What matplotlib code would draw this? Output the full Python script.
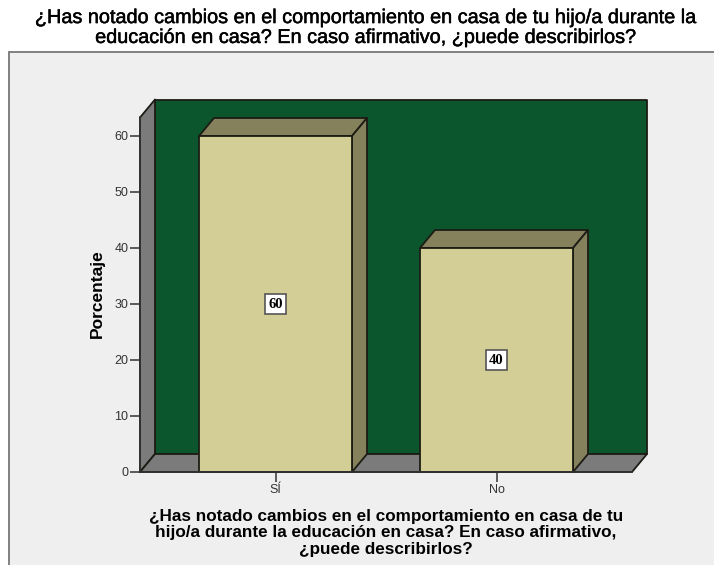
#!/usr/bin/env python
# plot.py - 3D-look SPSS style bar chart, drawn with flat polygons
import matplotlib
matplotlib.use("Agg")
import matplotlib.pyplot as plt
from matplotlib.patches import Polygon, Rectangle
import matplotlib.patheffects as pe

TITLE = ("¿Has notado cambios en el comportamiento en casa de tu hijo/a durante la\n"
         "educación en casa? En caso afirmativo, ¿puede describirlos?")
XLABEL = ("¿Has notado cambios en el comportamiento en casa de tu\n"
          "hijo/a durante la educación en casa? En caso afirmativo,\n"
          "¿puede describirlos?")
YLABEL = "Porcentaje"
categories = ["SÍ", "No"]
values = [60, 40]
yticks = [0, 10, 20, 30, 40, 50, 60]

W, H = 714, 565
# depth of the fake 3d, in data units
DX = 15 / 221.0
DY = 18 / 5.6
BAR_W = 153 / 221.0
EDGE = "#1c1c14"

plt.rcParams["font.family"] = ["Liberation Sans", "DejaVu Sans"]

fig = plt.figure(figsize=(W / 100, H / 100), dpi=100, facecolor="white")

# panel behind the chart
fig.add_artist(Rectangle((9 / W, -0.1), 2, 0.1 + (H - 52) / H, transform=fig.transFigure,
                         facecolor="#efefef", edgecolor="#808080", lw=1.4, zorder=-1))

ax = fig.add_axes([140 / W, (H - 472) / H, 492 / W, 354.5 / H])
ax.patch.set_visible(False)
ax.set_xlim(-135.5 / 221, 356.5 / 221)
ax.set_ylim(0, 354.5 / 5.6)
x0, x1 = ax.get_xlim()
y1 = ax.get_ylim()[1]

def poly(pts, fc, z=1):
    ax.add_patch(Polygon(pts, closed=True, facecolor=fc, edgecolor=EDGE, lw=1.3,
                         joinstyle="round", clip_on=False, zorder=z))

# back wall, side wall, floor
poly([(x0 + DX, DY), (x1 + DX, DY), (x1 + DX, y1 + DY), (x0 + DX, y1 + DY)], "#0b562c")
poly([(x0, 0), (x0 + DX, DY), (x0 + DX, y1 + DY), (x0, y1)], "#7b7b7b")
poly([(x0, 0), (x1, 0), (x1 + DX, DY), (x0 + DX, DY)], "#7b7b7b")

for i, v in enumerate(values):
    l, r = i - BAR_W / 2, i + BAR_W / 2
    poly([(l, v), (r, v), (r + DX, v + DY), (l + DX, v + DY)], "#85815d", 3)
    poly([(r, 0), (r + DX, DY), (r + DX, v + DY), (r, v)], "#85815d", 3)
    poly([(l, 0), (r, 0), (r, v), (l, v)], "#d3cd96", 4)
    ax.text(i, v / 2, str(v), ha="center", va="center", fontsize=10.5, fontweight="bold",
            family=["Liberation Serif"], color="black", zorder=6,
            bbox=dict(boxstyle="square,pad=0.25", fc="white", ec="#555555", lw=1.2))

for s in ("top", "right"):
    ax.spines[s].set_visible(False)
for s in ("left", "bottom"):
    ax.spines[s].set_color("#333333")
    ax.spines[s].set_linewidth(1.2)
    ax.spines[s].set_zorder(5)

ax.set_xticks(range(len(categories)), categories)
ax.set_yticks(yticks)
ax.tick_params(axis="both", colors="#333333", labelsize=9, length=7, width=1.1, pad=1.5)

# title is rendered a little heavier than regular in the original
t = fig.text(367 / W, 1 - 27.5 / H, TITLE, ha="center", va="center", fontsize=14.3,
             color="black", linespacing=1.06)
t.set_path_effects([pe.withStroke(linewidth=0.35, foreground="black")])
fig.text(386 / W, 1 - 533 / H, XLABEL, ha="center", va="center", fontsize=12.3,
         fontweight="bold", color="black", linespacing=1.13)
fig.text(97 / W, 1 - 294 / H, YLABEL, ha="center", va="center", rotation=90,
         fontsize=12.5, fontweight="bold", color="black")

fig.savefig("out.png", dpi=100, facecolor="white")
